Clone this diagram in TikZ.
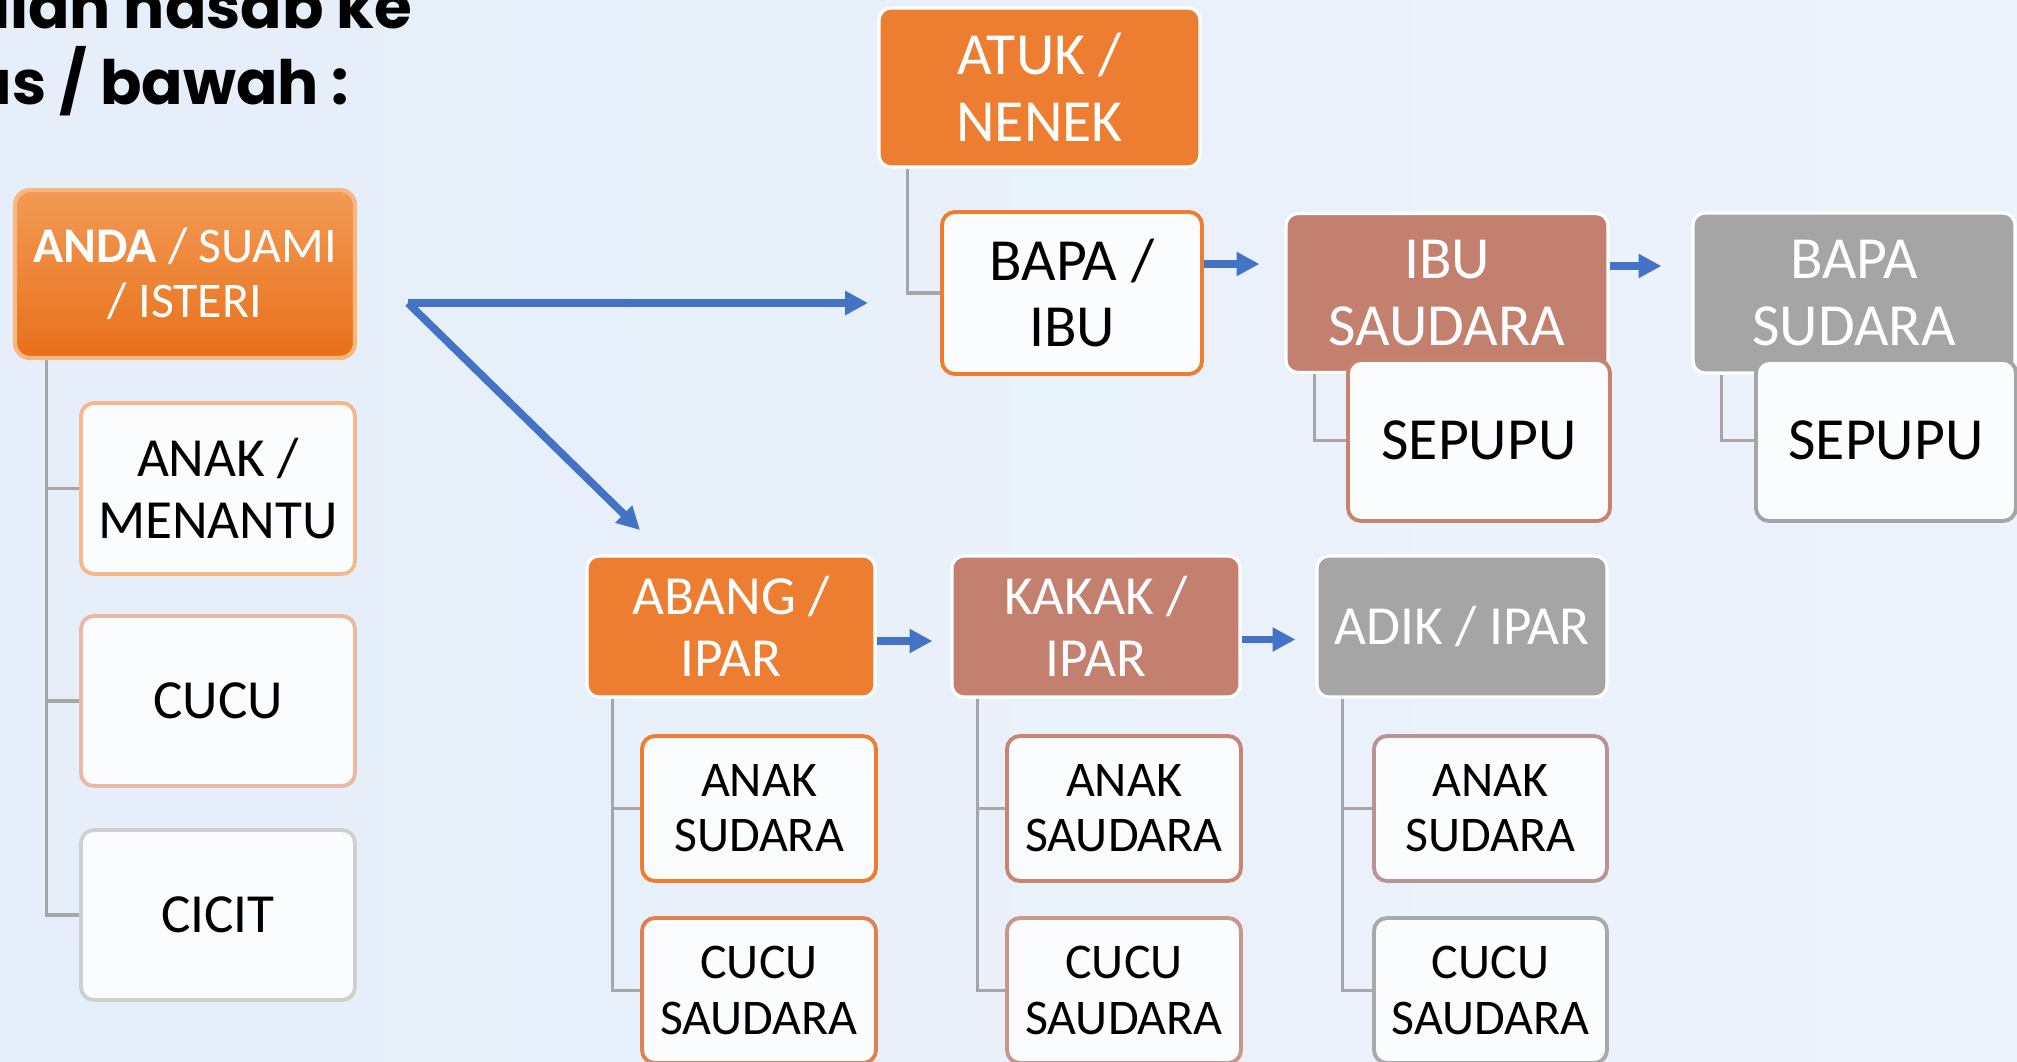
\documentclass[tikz,border=0pt]{standalone}
\usepackage{fontspec}
\setmainfont{Carlito}
\newfontfamily\titlefont{Poppins}
\usetikzlibrary{arrows.meta}

\definecolor{accorange}{HTML}{ED7D31}
\definecolor{accrose}{HTML}{C4806F}
\definecolor{accgray}{HTML}{A5A5A5}
\definecolor{arrowblue}{HTML}{4472C4}
\definecolor{linegray}{HTML}{A6A6A6}
\definecolor{boxwhite}{HTML}{FBFCFE}
\definecolor{bgleft}{HTML}{E5EEF9}
\definecolor{bgmid}{HTML}{F1F4F8}
\definecolor{bgright}{HTML}{EDF3FB}

\tikzset{
  headbox/.style={rounded corners=0.12cm, draw=white, line width=0.9pt, text=white, align=center, inner sep=0pt},
  childbox/.style={rounded corners=0.13cm, fill=boxwhite, line width=1.1pt, text=black, align=center, inner sep=0pt},
  largetext/.style={font=\fontsize{17}{19}\selectfont},
  mediumtext/.style={font=\fontsize{15.7}{17.6}\selectfont},
  smalltext/.style={font=\fontsize{14.2}{15.7}\selectfont},
  titletext/.style={anchor=base east, inner sep=0pt, font=\titlefont\bfseries\fontsize{17.4}{22}\selectfont},
  treeline/.style={draw=linegray, line width=0.9pt},
  blockarrow/.style={draw=arrowblue, line width=2.2pt, -{Triangle[width=6.5pt,length=6.5pt]}}
}

\begin{document}
\begin{tikzpicture}[y=-1cm]
\useasboundingbox (0,0) rectangle (20.17,10.61);
\clip (0,0) rectangle (20.17,10.61);
\fill[left color=bgleft, middle color=bgmid, right color=bgright] (0,0) rectangle (20.17,10.61);

% title, cut at the left edge
\node[titletext] (title1) at (4.13,0.28) {Pertalian nasab ke};
\node[titletext] (title2) at (3.50,1.04) {atas / bawah :};

% own line
\node[rounded corners=0.15cm, top color={rgb,255:red,243;green,154;blue,85}, bottom color={rgb,255:red,232;green,112;blue,26}, draw={rgb,255:red,247;green,183;blue,128}, line width=1.2pt, text=white, align=center, inner sep=0pt, smalltext, minimum width=3.40cm, minimum height=1.68cm] (anda) at (1.85,2.74) {{\bfseries ANDA} / SUAMI\\/ ISTERI};
\node[childbox, mediumtext, draw={rgb,255:red,245;green,184;blue,138}, minimum width=2.74cm, minimum height=1.71cm] (anak) at (2.18,4.885) {ANAK /\\MENANTU};
\node[childbox, mediumtext, draw={rgb,255:red,235;green,184;blue,165}, minimum width=2.74cm, minimum height=1.70cm] (cucu) at (2.18,7.01) {CUCU};
\node[childbox, mediumtext, draw={rgb,255:red,207;green,207;blue,207}, minimum width=2.74cm, minimum height=1.70cm] (cicit) at (2.18,9.15) {CICIT};

% upward line
\node[headbox, largetext, fill=accorange, minimum width=3.21cm, minimum height=1.59cm] (atuk) at (10.395,0.875) {ATUK /\\NENEK};
\node[childbox, largetext, draw=accorange, minimum width=2.60cm, minimum height=1.62cm] (bapa) at (10.72,2.93) {BAPA /\\IBU};
\node[headbox, largetext, fill=accrose, minimum width=3.22cm, minimum height=1.59cm] (ibus) at (14.47,2.93) {IBU\\SAUDARA};
\node[childbox, largetext, draw={rgb,255:red,200;green,130;blue,112}, minimum width=2.62cm, minimum height=1.61cm] (sepupua) at (14.79,4.405) {SEPUPU};
\node[headbox, largetext, fill=accgray, minimum width=3.22cm, minimum height=1.60cm] (bapas) at (18.54,2.93) {BAPA\\SUDARA};
\node[childbox, largetext, draw=accgray, minimum width=2.60cm, minimum height=1.61cm] (sepupub) at (18.86,4.405) {SEPUPU};

% siblings
\node[headbox, mediumtext, fill=accorange, minimum width=2.88cm, minimum height=1.41cm] (abang) at (7.31,6.265) {ABANG /\\IPAR};
\node[childbox, smalltext, draw=accorange, minimum width=2.34cm, minimum height=1.45cm] (anaka) at (7.59,8.085) {ANAK\\SUDARA};
\node[childbox, smalltext, draw={rgb,255:red,221;green,130;blue,82}, minimum width=2.34cm, minimum height=1.45cm] (cucua) at (7.59,9.905) {CUCU\\SAUDARA};
\node[headbox, mediumtext, fill=accrose, minimum width=2.88cm, minimum height=1.41cm] (kakak) at (10.96,6.265) {KAKAK /\\IPAR};
\node[childbox, smalltext, draw={rgb,255:red,201;green,132;blue,114}, minimum width=2.34cm, minimum height=1.45cm] (anakb) at (11.24,8.085) {ANAK\\SAUDARA};
\node[childbox, smalltext, draw={rgb,255:red,201;green,150;blue,138}, minimum width=2.34cm, minimum height=1.45cm] (cucub) at (11.24,9.905) {CUCU\\SAUDARA};
\node[headbox, mediumtext, fill=accgray, minimum width=2.90cm, minimum height=1.41cm] (adik) at (14.62,6.265) {ADIK / IPAR};
\node[childbox, smalltext, draw={rgb,255:red,185;green,148;blue,148}, minimum width=2.33cm, minimum height=1.45cm] (anakc) at (14.905,8.085) {ANAK\\SUDARA};
\node[childbox, smalltext, draw={rgb,255:red,169;green,169;blue,169}, minimum width=2.33cm, minimum height=1.45cm] (cucuc) at (14.905,9.905) {CUCU\\SAUDARA};

% tree lines
\draw[treeline] ([xshift=3.4mm]anda.south west) |- (anak.west);
\draw[treeline] ([xshift=3.4mm]anda.south west) |- (cucu.west);
\draw[treeline] ([xshift=3.4mm]anda.south west) |- (cicit.west);
\draw[treeline] ([xshift=3mm]atuk.south west) |- (bapa.west);
\draw[treeline] ([xshift=3mm]ibus.south west) |- (sepupua.west);
\draw[treeline] ([xshift=3mm]bapas.south west) |- (sepupub.west);
\draw[treeline] ([xshift=2.7mm]abang.south west) |- (anaka.west);
\draw[treeline] ([xshift=2.7mm]abang.south west) |- (cucua.west);
\draw[treeline] ([xshift=2.7mm]kakak.south west) |- (anakb.west);
\draw[treeline] ([xshift=2.7mm]kakak.south west) |- (cucub.west);
\draw[treeline] ([xshift=2.7mm]adik.south west) |- (anakc.west);
\draw[treeline] ([xshift=2.7mm]adik.south west) |- (cucuc.west);

% arrows
\coordinate (split) at (4.08,3.03);
\coordinate (tobapa) at (8.68,3.03);
\coordinate (toabang) at (6.40,5.30);
\draw[blockarrow] (split) -- (tobapa);
\draw[blockarrow] (split) -- (toabang);
\draw[blockarrow, shorten >=0.25cm] ([yshift=0.29cm]bapa.east) -- ([yshift=0.29cm]ibus.west);
\draw[blockarrow, shorten >=0.30cm] ([yshift=0.27cm]ibus.east) -- ([yshift=0.27cm]bapas.west);
\draw[blockarrow, shorten >=0.18cm] ([yshift=-0.145cm]abang.east) -- ([yshift=-0.145cm]kakak.west);
\draw[blockarrow, shorten >=0.20cm] ([yshift=-0.13cm]kakak.east) -- ([yshift=-0.13cm]adik.west);

\end{tikzpicture}
\end{document}
